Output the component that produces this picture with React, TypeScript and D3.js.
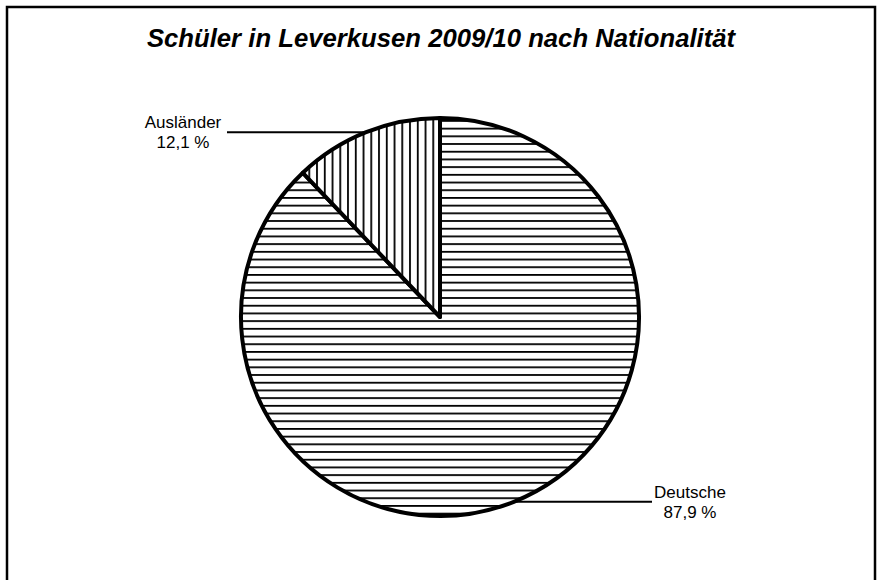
import React from "react";
import * as d3 from "d3";

const title = "Schüler in Leverkusen 2009/10 nach Nationalität";
const categories = ["Deutsche", "Ausländer"];
const values = [87.9, 12.1];
const valueLabels = ["87,9 %", "12,1 %"];
const patterns = ["hlines", "vlines"];

const W = 883;
const H = 580;
const cx = 440;
const cy = 317;
const R = 199;

export default function App() {
  const pie = d3.pie<number>().sort(null).value((d) => d);
  const arcs = pie(values);
  const arcGen = d3.arc<d3.PieArcDatum<number>>().innerRadius(0).outerRadius(R);

  const labelEndX = [652, 227];
  const labelCenterX = [690, 183];

  return (
    <svg
      width={W}
      height={H}
      style={{ position: "absolute", left: 0, top: 0, background: "#fff" }}
      fontFamily="'Liberation Sans', Arial, sans-serif"
    >
      <defs>
        <pattern id="hlines" patternUnits="userSpaceOnUse" width={10} height={7.7} y={127.3 - 0.9}>
          <rect width={10} height={7.7} fill="#fff" />
          <rect y={0} width={10} height={1.8} fill="#000" />
        </pattern>
        <pattern id="vlines" patternUnits="userSpaceOnUse" width={7.75} height={10} x={435 - 0.9}>
          <rect width={7.75} height={10} fill="#fff" />
          <rect x={0} width={1.8} height={10} fill="#000" />
        </pattern>
      </defs>
      <rect x={0} y={0} width={W} height={H} fill="#fff" />
      <rect x={7} y={7} width={868} height={H + 20} fill="none" stroke="#000" strokeWidth={2.5} />
      <text
        x={441}
        y={47}
        textAnchor="middle"
        fontSize={25.7}
        fontWeight="bold"
        fontStyle="italic"
      >
        {title}
      </text>
      {arcs.map((a, i) => (
        <path
          key={"p" + categories[i]}
          d={arcGen(a) || ""}
          transform={`translate(${cx},${cy})`}
          fill={`url(#${patterns[i]})`}
          stroke="#000"
          strokeWidth={4}
          strokeLinejoin="round"
        />
      ))}
      {arcs.map((a, i) => {
        const mid = (a.startAngle + a.endAngle) / 2;
        const x0 = cx + R * Math.sin(mid);
        const y0 = cy - R * Math.cos(mid);
        return (
          <g key={"l" + categories[i]}>
            <line x1={x0} y1={y0} x2={labelEndX[i]} y2={y0} stroke="#000" strokeWidth={2} />
            <text x={labelCenterX[i]} y={y0 - 4} textAnchor="middle" fontSize={17}>
              {categories[i]}
            </text>
            <text x={labelCenterX[i]} y={y0 + 16} textAnchor="middle" fontSize={17}>
              {valueLabels[i]}
            </text>
          </g>
        );
      })}
    </svg>
  );
}
